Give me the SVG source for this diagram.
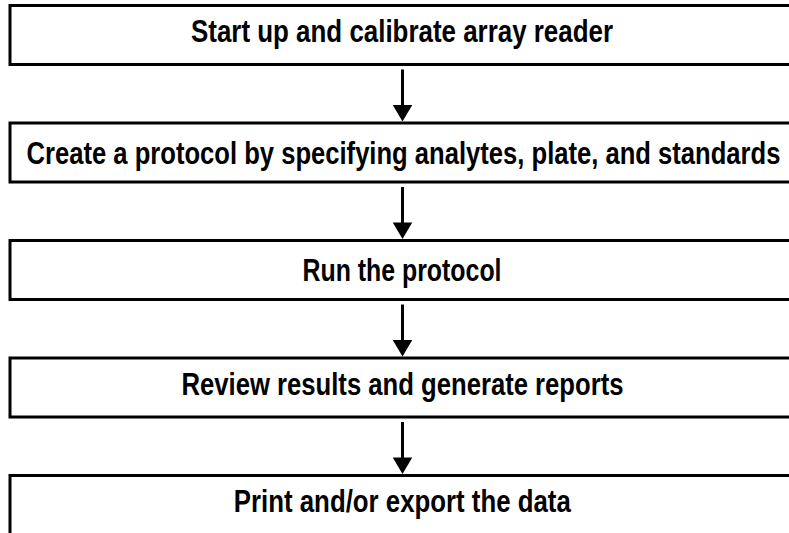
<svg xmlns="http://www.w3.org/2000/svg" width="789" height="533" viewBox="0 0 789 533">
<style>
.box{fill:#fff;stroke:#000;stroke-width:3}
.lbl{font-family:"Liberation Sans",Arial,sans-serif;font-weight:bold;font-size:31.5px;fill:#000;text-anchor:middle}
.shaft{stroke:#000;stroke-width:3;fill:none}
.head{fill:#000}
</style>
<rect width="789" height="533" fill="#fff"/>
<g id="n1"><rect class="box" x="10" y="5.5" width="800" height="59"/><text class="lbl" transform="translate(402,42) scale(0.77,1)" x="0" y="0" textLength="548" lengthAdjust="spacingAndGlyphs">Start up and calibrate array reader</text></g>
<g id="n2"><rect class="box" x="10" y="123" width="800" height="59"/><text class="lbl" transform="translate(403.5,163.5) scale(0.77,1)" x="0" y="0" textLength="979" lengthAdjust="spacingAndGlyphs">Create a protocol by specifying analytes, plate, and standards</text></g>
<g id="n3"><rect class="box" x="10" y="240.5" width="800" height="59"/><text class="lbl" transform="translate(402,281) scale(0.77,1)" x="0" y="0" textLength="258.4" lengthAdjust="spacingAndGlyphs">Run the protocol</text></g>
<g id="n4"><rect class="box" x="10" y="358" width="800" height="59"/><text class="lbl" transform="translate(402.5,395) scale(0.77,1)" x="0" y="0" textLength="574" lengthAdjust="spacingAndGlyphs">Review results and generate reports</text></g>
<g id="n5"><rect class="box" x="10" y="475.5" width="800" height="80"/><text class="lbl" transform="translate(402.3,512) scale(0.77,1)" x="0" y="0" textLength="437.7" lengthAdjust="spacingAndGlyphs">Print and/or export the data</text></g>
<g id="connectors">
<line class="shaft" x1="402.5" y1="69.5" x2="402.5" y2="106"/><polygon class="head" points="392.75,105 412.25,105 402.5,121.5"/>
<line class="shaft" x1="402.5" y1="187" x2="402.5" y2="223.5"/><polygon class="head" points="392.75,222.5 412.25,222.5 402.5,239"/>
<line class="shaft" x1="402.5" y1="304.5" x2="402.5" y2="341"/><polygon class="head" points="392.75,340 412.25,340 402.5,356.5"/>
<line class="shaft" x1="402.5" y1="422" x2="402.5" y2="458.5"/><polygon class="head" points="392.75,457.5 412.25,457.5 402.5,474"/>
</g>
</svg>
